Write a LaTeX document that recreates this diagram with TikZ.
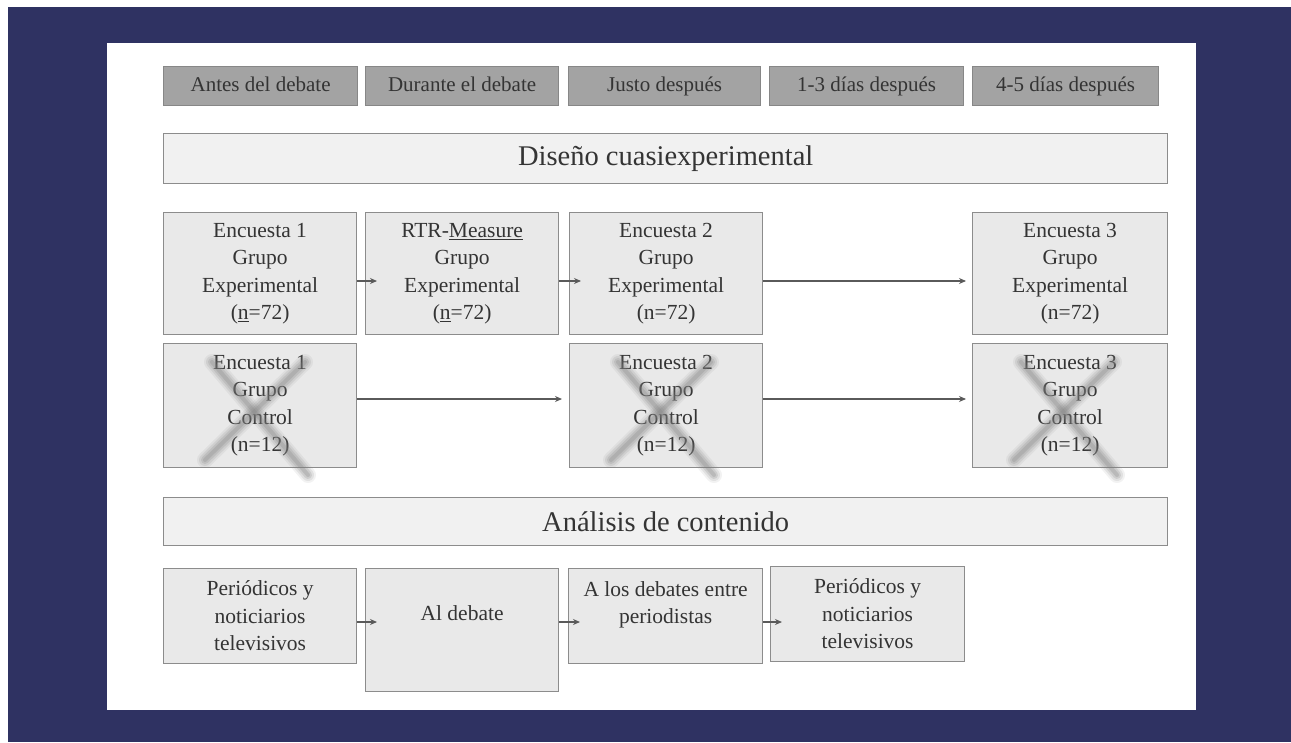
\documentclass[tikz,border=0pt]{standalone}
\usepackage{fontspec}
\setmainfont{Liberation Serif}
\usetikzlibrary{arrows.meta,calc}
\definecolor{navy}{RGB}{47,50,98}
\definecolor{hdrfill}{RGB}{163,163,163}
\definecolor{hdrdraw}{RGB}{135,135,135}
\definecolor{boxfill}{RGB}{233,233,233}
\definecolor{boxdraw}{RGB}{140,140,140}
\definecolor{titlefill}{RGB}{241,241,241}
\definecolor{txt}{RGB}{52,52,52}
\definecolor{arrcol}{RGB}{90,90,90}
\tikzset{
  hdr/.style={draw=hdrdraw, fill=hdrfill, line width=1.2pt, anchor=north west, inner sep=0pt,
    text height=15pt, text depth=5pt,
    text=txt, font=\fontsize{21}{25}\selectfont},
  titlebox/.style={draw=boxdraw, fill=titlefill, line width=1.4pt, anchor=north west, inner sep=0pt,
    text=txt, font=\fontsize{28.5}{34}\selectfont},
  rowbox/.style={draw=boxdraw, fill=boxfill, line width=1.2pt, anchor=north west, inner sep=0pt,
    align=center, text=txt, font=\fontsize{21.5}{27.5}\selectfont},
  arr/.style={draw=arrcol, line width=1.1pt, -{Stealth[length=7pt,width=6pt]}},
  cross/.style={line cap=round, draw=gray},
}
\newcommand{\crossmark}[1]{%
  \foreach \w/\o in {16/0.10,12/0.15,8/0.2,4/0.25}{%
    \draw[cross, line width=\w pt, opacity=\o] ($(#1.north west)+(49,19)$) -- ($(#1.north west)+(145,132)$);
    \draw[cross, line width=\w pt, opacity=\o] ($(#1.north west)+(142,19)$) -- ($(#1.north west)+(42,117)$);
  }%
}
\begin{document}
\begin{tikzpicture}[x=1pt,y=-1pt]
\useasboundingbox (0,0) rectangle (1291,742);
\fill[white] (0,0) rectangle (1291,742);
\fill[navy] (8,7) rectangle (1291,742);
\fill[white] (107,43) rectangle (1196,710);

% header row
\node[hdr, minimum width=194pt, minimum height=39pt] (h1) at (163,66) {Antes del debate};
\node[hdr, minimum width=193pt, minimum height=39pt] (h2) at (365,66) {Durante el debate};
\node[hdr, minimum width=192pt, minimum height=39pt] (h3) at (568,66) {Justo después};
\node[hdr, minimum width=194pt, minimum height=39pt] (h4) at (769,66) {1-3 días después};
\node[hdr, minimum width=186pt, minimum height=39pt] (h5) at (972,66) {4-5 días después};

% titles
\node[titlebox, minimum width=1004pt, minimum height=50pt] (dis) at (163,133) {Diseño cuasiexperimental};
\node[titlebox, minimum width=1004pt, minimum height=48pt] (ana) at (163,497) {Análisis de contenido};

% experimental row
\node[rowbox, minimum width=193pt, minimum height=122pt] (E1) at (163,212) {Encuesta 1\\Grupo\\Experimental\\(\underline{n}=72)};
\node[rowbox, minimum width=193pt, minimum height=122pt] (RTR) at (365,212) {RTR-\underline{Measure}\\Grupo\\Experimental\\(\underline{n}=72)};
\node[rowbox, minimum width=193pt, minimum height=122pt] (E2) at (569,212) {Encuesta 2\\Grupo\\Experimental\\(n=72)};
\node[rowbox, minimum width=195pt, minimum height=122pt] (E3) at (972,212) {Encuesta 3\\Grupo\\Experimental\\(n=72)};

% control row
\node[rowbox, minimum width=193pt, minimum height=124pt] (C1) at (163,343) {Encuesta 1\\Grupo\\Control\\(n=12)};
\node[rowbox, minimum width=193pt, minimum height=124pt] (C2) at (569,343) {Encuesta 2\\Grupo\\Control\\(n=12)};
\node[rowbox, minimum width=195pt, minimum height=124pt] (C3) at (972,343) {Encuesta 3\\Grupo\\Control\\(n=12)};
\crossmark{C1}
\crossmark{C2}
\crossmark{C3}

% content analysis row
\node[rowbox, minimum width=193pt, minimum height=95pt] (P1) at (163,568) {Periódicos y\\noticiarios\\televisivos};
\node[rowbox, minimum width=193pt, text height=52pt, text depth=71pt] (AD) at (365,568) {Al debate};
\node[rowbox, minimum width=194pt, minimum height=95pt] (AL) at (568,568) {A los debates entre\\periodistas\\\mbox{}};
\node[rowbox, minimum width=194pt, minimum height=95pt] (P2) at (770,566) {Periódicos y\\noticiarios\\televisivos};

% connectors
\coordinate (r1) at (0,281);
\coordinate (r2) at (0,399);
\coordinate (r3) at (0,622);
\draw[arr, shorten >=-12pt] (E1.east |- r1) -- (RTR.west |- r1);
\draw[arr, shorten >=-12pt] (RTR.east |- r1) -- (E2.west |- r1);
\draw[arr, shorten >=6pt] (E2.east |- r1) -- (E3.west |- r1);
\draw[arr, shorten >=7pt] (C1.east |- r2) -- (C2.west |- r2);
\draw[arr, shorten >=6pt] (C2.east |- r2) -- (C3.west |- r2);
\draw[arr, shorten >=-12pt] (P1.east |- r3) -- (AD.west |- r3);
\draw[arr, shorten >=-12pt] (AD.east |- r3) -- (AL.west |- r3);
\draw[arr, shorten >=-12pt] (AL.east |- r3) -- (P2.west |- r3);
\end{tikzpicture}
\end{document}
